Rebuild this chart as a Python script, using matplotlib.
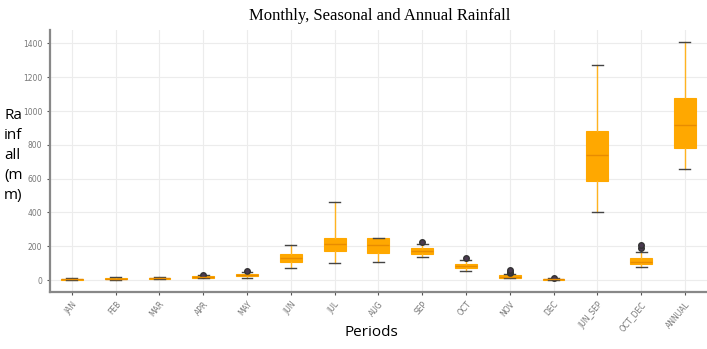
import matplotlib
matplotlib.use("Agg")
import matplotlib.pyplot as plt

periods = ["JAN", "FEB", "MAR", "APR", "MAY", "JUN", "JUL", "AUG", "SEP",
           "OCT", "NOV", "DEC", "JUN_SEP", "OCT_DEC", "ANNUAL"]
whislo = [0, 1, 4, 10, 10, 70, 100, 105, 135, 55, 10, 0, 400, 75, 655]
q1 = [2, 5, 8, 15, 22, 105, 170, 160, 155, 70, 15, 1, 588, 95, 780]
med = [5, 8, 11, 19, 28, 130, 215, 205, 175, 82, 21, 4, 740, 110, 920]
q3 = [9, 13, 15, 25, 35, 155, 250, 250, 190, 95, 30, 8, 882, 130, 1075]
whishi = [14, 20, 20, 30, 45, 205, 460, 250, 215, 120, 38, 12, 1272, 165, 1410]
fliers = [[], [], [], [30], [55], [], [], [], [225], [130], [40, 48, 58], [15], [], [190, 205], []]

stats = []
for i, name in enumerate(periods):
    stats.append(dict(label=name, whislo=whislo[i], q1=q1[i], med=med[i],
                      q3=q3[i], whishi=whishi[i], fliers=fliers[i]))

fig = plt.figure(figsize=(7.07, 3.49), dpi=100)
ax = fig.add_axes([0.0707, 0.163, 0.929, 0.751])

orange = "#FFA800"
ax.bxp(stats, widths=0.5, patch_artist=True, showfliers=True,
       boxprops=dict(facecolor=orange, edgecolor=orange, linewidth=0.8),
       medianprops=dict(color="#E88C00", linewidth=1.0),
       whiskerprops=dict(color="#FFB320", linewidth=1.0),
       capprops=dict(color="#444444", linewidth=1.0),
       flierprops=dict(marker="o", markersize=4, markerfacecolor="#4a3a50",
                       markeredgecolor="#333333", linewidth=0),
       zorder=3)

ax.set_xlim(0.5, 15.5)
ax.set_ylim(-71, 1479)
ax.set_yticks([0, 200, 400, 600, 800, 1000, 1200, 1400])
ax.set_xticks(range(1, 16))
ax.set_xticklabels(periods, rotation=50, ha="right", rotation_mode="anchor")
ax.tick_params(axis="both", labelsize=5.5, labelcolor="#777777", length=2, color="#555555")
ax.grid(True, color="#ececec", linewidth=0.8, zorder=0)
ax.set_axisbelow(True)
for s in ["top", "right"]:
    ax.spines[s].set_visible(False)
for s in ["left", "bottom"]:
    ax.spines[s].set_color("#888888")
    ax.spines[s].set_linewidth(1.6)

fig.text(0.537, 0.955, "Monthly, Seasonal and Annual Rainfall", ha="center", va="center",
         fontsize=12, family="Liberation Serif")
fig.text(0.006, 0.555, "Ra\ninf\nall\n(m\nm)", ha="left", va="center",
         fontsize=11, family="Open Sans", linespacing=1.45)
fig.text(0.525, 0.048, "Periods", ha="center", va="center", fontsize=11, family="Open Sans")

fig.savefig("out.png", dpi=100)
